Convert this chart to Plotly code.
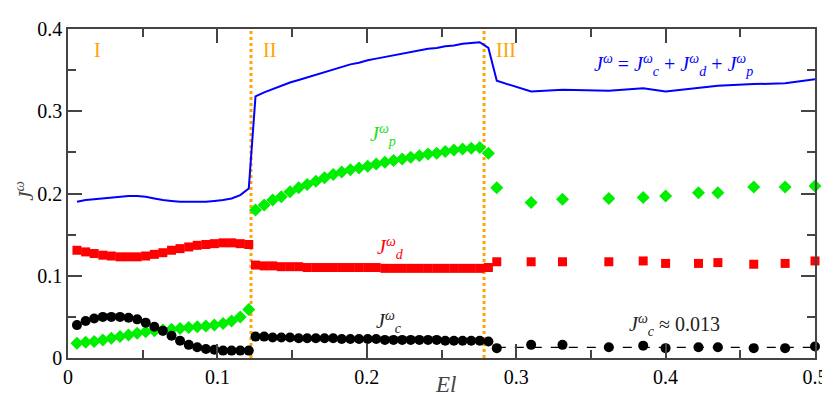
import plotly.graph_objects as go

# region I
el_1 = [0.0060, 0.0118, 0.0175, 0.0233, 0.0290, 0.0348, 0.0405, 0.0463, 0.0520, 0.0578,
        0.0635, 0.0693, 0.0750, 0.0808, 0.0865, 0.0923, 0.0980, 0.1038, 0.1095, 0.1153, 0.1210]
jc_1 = [0.040, 0.045, 0.048, 0.050, 0.050, 0.050, 0.049, 0.047, 0.043, 0.038,
        0.033, 0.027, 0.021, 0.016, 0.013, 0.011, 0.010, 0.009, 0.009, 0.009, 0.009]
jd_1 = [0.131, 0.129, 0.127, 0.125, 0.124, 0.123, 0.123, 0.123, 0.124, 0.126,
        0.128, 0.131, 0.133, 0.135, 0.137, 0.138, 0.139, 0.140, 0.140, 0.139, 0.138]
jp_1 = [0.018, 0.019, 0.020, 0.022, 0.024, 0.026, 0.028, 0.030, 0.032, 0.033,
        0.034, 0.035, 0.036, 0.037, 0.038, 0.039, 0.040, 0.042, 0.045, 0.050, 0.059]
jt_1 = [0.190, 0.192, 0.193, 0.194, 0.195, 0.196, 0.197, 0.197, 0.196, 0.194,
        0.192, 0.191, 0.190, 0.190, 0.190, 0.190, 0.191, 0.192, 0.194, 0.198, 0.206]

# region II
el_2 = [0.1255, 0.1313, 0.1370, 0.1428, 0.1486, 0.1544, 0.1601, 0.1659, 0.1717, 0.1775,
        0.1832, 0.1890, 0.1948, 0.2006, 0.2063, 0.2121, 0.2179, 0.2237, 0.2294, 0.2352,
        0.2410, 0.2468, 0.2525, 0.2583, 0.2641, 0.2699, 0.2756, 0.2814]
jc_2 = [0.026, 0.026, 0.025, 0.025, 0.025, 0.024, 0.024, 0.024, 0.024, 0.024,
        0.023, 0.023, 0.023, 0.023, 0.023, 0.022, 0.022, 0.022, 0.022, 0.022,
        0.022, 0.022, 0.021, 0.021, 0.021, 0.021, 0.021, 0.020]
jd_2 = [0.113, 0.112, 0.112, 0.111, 0.111, 0.111, 0.110, 0.110, 0.110, 0.110,
        0.110, 0.110, 0.110, 0.110, 0.110, 0.109, 0.109, 0.109, 0.109, 0.109,
        0.109, 0.109, 0.109, 0.109, 0.109, 0.109, 0.109, 0.110]
jp_2 = [0.180, 0.186, 0.192, 0.196, 0.202, 0.207, 0.211, 0.215, 0.219, 0.223,
        0.226, 0.229, 0.231, 0.233, 0.236, 0.238, 0.240, 0.242, 0.244, 0.246,
        0.248, 0.249, 0.251, 0.253, 0.254, 0.255, 0.256, 0.249]
jt_2 = [0.318, 0.323, 0.327, 0.331, 0.335, 0.338, 0.341, 0.345, 0.348, 0.351,
        0.354, 0.357, 0.359, 0.362, 0.364, 0.366, 0.368, 0.370, 0.372, 0.374,
        0.376, 0.377, 0.379, 0.380, 0.382, 0.383, 0.384, 0.377]

# region III
el_3 = [0.287, 0.310, 0.331, 0.362, 0.385, 0.400, 0.422, 0.435, 0.459, 0.480, 0.500]
jc_3 = [0.012, 0.016, 0.016, 0.013, 0.015, 0.012, 0.013, 0.013, 0.012, 0.012, 0.014]
jd_3 = [0.117, 0.117, 0.117, 0.117, 0.118, 0.115, 0.115, 0.116, 0.114, 0.115, 0.118]
jp_3 = [0.207, 0.189, 0.193, 0.194, 0.195, 0.197, 0.201, 0.201, 0.208, 0.208, 0.209]
jt_3 = [0.337, 0.324, 0.326, 0.325, 0.328, 0.324, 0.328, 0.331, 0.333, 0.334, 0.339]

jc_mean = 0.013
boundaries = [0.1225, 0.2785]
region_names = ['I', 'II', 'III']
region_x = [0.020, 0.135, 0.293]

el_all = el_1 + el_2 + el_3
serif = 'Liberation Serif'
orange = '#FFA500'
axis_grey = '#444444'

fig = go.Figure()

for b in boundaries:
    fig.add_vline(x=b, line=dict(color=orange, width=3, dash='dot'), layer='below')

fig.add_trace(go.Scatter(x=[el_3[0], el_3[-1]], y=[jc_mean, jc_mean], mode='lines',
                         line=dict(color='black', width=1.2, dash='dash'), cliponaxis=False))
fig.add_trace(go.Scatter(x=el_all, y=jt_1 + jt_2 + jt_3, mode='lines',
                         line=dict(color='#0000FF', width=2), cliponaxis=False))
fig.add_trace(go.Scatter(x=el_all, y=jd_1 + jd_2 + jd_3, mode='markers',
                         marker=dict(symbol='square', size=9, color='#FF0000'), cliponaxis=False))
fig.add_trace(go.Scatter(x=el_all, y=jp_1 + jp_2 + jp_3, mode='markers',
                         marker=dict(symbol='diamond', size=10, color='#00EE00'), cliponaxis=False))
fig.add_trace(go.Scatter(x=el_all, y=jc_1 + jc_2 + jc_3, mode='markers',
                         marker=dict(symbol='circle', size=10, color='black'), cliponaxis=False))

for name, xpos in zip(region_names, region_x):
    fig.add_annotation(x=xpos, y=0.374, text=name, showarrow=False,
                       font=dict(family=serif, size=20, color=orange))

labels = [
    (0.405, 0.356, '<i>J</i><sup><i>ω</i></sup> = <i>J</i><sup><i>ω</i></sup><sub><i>c</i></sub> + '
                   '<i>J</i><sup><i>ω</i></sup><sub><i>d</i></sub> + <i>J</i><sup><i>ω</i></sup><sub><i>p</i></sub>', '#0000FF'),
    (0.211, 0.271, '<i>J</i><sup><i>ω</i></sup><sub><i>p</i></sub>', '#22DD22'),
    (0.216, 0.134, '<i>J</i><sup><i>ω</i></sup><sub><i>d</i></sub>', '#FF0000'),
    (0.215, 0.044, '<i>J</i><sup><i>ω</i></sup><sub><i>c</i></sub>', '#222222'),
    (0.406, 0.040, '<i>J</i><sup><i>ω</i></sup><sub><i>c</i></sub> ≈ 0.013', '#222222'),
]
for xpos, ypos, txt, col in labels:
    fig.add_annotation(x=xpos, y=ypos, text=txt, showarrow=False,
                       font=dict(family=serif, size=20, color=col))

# axis titles as annotations, kept inside the page
fig.add_annotation(x=0.506, y=-0.125, xref='paper', yref='paper', text='<i>El</i>',
                   showarrow=False, yanchor='bottom',
                   font=dict(family=serif, size=23, color=axis_grey))
fig.add_annotation(x=-0.0793, y=0.509, xref='paper', yref='paper', text='<i>J</i><sup><i>ω</i></sup>',
                   showarrow=False, textangle=-90, xanchor='left',
                   font=dict(family=serif, size=21, color=axis_grey))

axis_style = dict(showline=True, linecolor=axis_grey, linewidth=1.5, mirror='allticks',
                  ticks='inside', ticklen=14, tickwidth=1.5, tickcolor=axis_grey,
                  showgrid=False, zeroline=False,
                  tickfont=dict(family=serif, size=20, color='black'))
minor_style = dict(ticks='inside', ticklen=8, tickwidth=1.5, tickcolor=axis_grey)

fig.update_xaxes(range=[0, 0.5], dtick=0.1, minor=dict(dtick=0.05, **minor_style), **axis_style)
fig.update_yaxes(range=[0, 0.4], dtick=0.1, minor=dict(dtick=0.05, **minor_style), **axis_style)

fig.update_layout(
    width=830, height=398,
    showlegend=False,
    plot_bgcolor='white', paper_bgcolor='white',
    margin=dict(l=60, r=13, t=10, b=48),
)

fig.write_html("out.html")
